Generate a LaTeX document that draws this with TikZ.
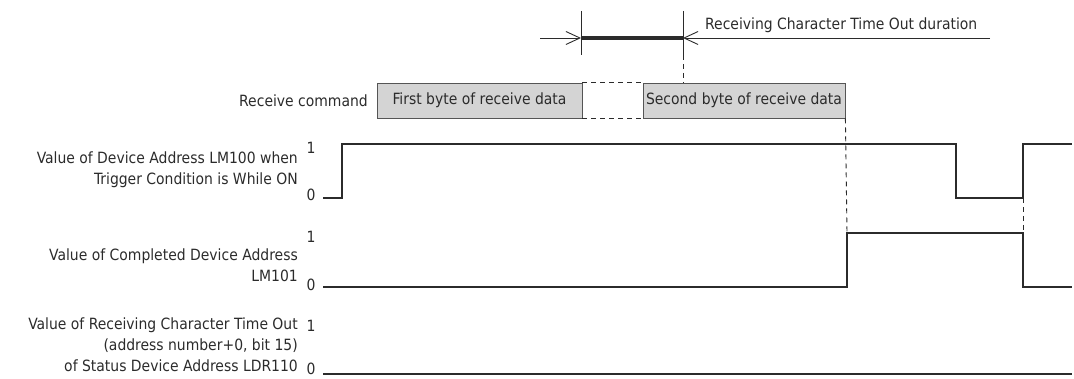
\documentclass[tikz,border=0pt]{standalone}
\usepackage{fontspec}
\setmainfont{DejaVu Sans Condensed}
\usetikzlibrary{arrows.meta, positioning, calc}
\definecolor{ink}{HTML}{2B2B2B}
\definecolor{boxfill}{HTML}{D4D4D4}

\begin{document}
\begin{tikzpicture}[
  x=1pt, y=-1pt,
  font=\fontsize{15.5}{21}\selectfont, text=ink,
  bytebox/.style={draw=ink!80, fill=boxfill, line width=0.8pt,
                  minimum height=35pt, inner sep=0pt},
  signal/.style={draw=ink, line width=2pt, line join=miter},
  guide/.style={draw=ink, line width=0.9pt},
  guidedash/.style={draw=ink, line width=0.9pt, dash pattern=on 5pt off 4pt},
  siglabel/.style={align=right, anchor=east, inner sep=0pt},
  lvl/.style={inner sep=0pt},
  barb/.style={-{Straight Barb[length=14pt,width=13pt,line width=0.9pt]}}
]
\useasboundingbox (0,0) rectangle (1074,379);

% receive command
\node[anchor=east, inner sep=0pt] (cmd) at (368,101) {Receive command};
\node[bytebox, minimum width=205pt] (b1) at (479.5,100.5) {First byte of receive data};
\node[bytebox, minimum width=202pt] (b2) at (744,100.5) {Second byte of receive data};
\draw[guidedash] (b1.north east) -- (b2.north west);
\draw[guidedash] (b1.south east) -- (b2.south west);

% time out duration
\coordinate (tl) at (581,11);
\coordinate (tr) at (683,11);
\coordinate (ll) at (540,38);
\coordinate (lr) at (990,38);
\draw[guide] (tl) -- ++(0,44);
\draw[guide] (tr) -- ++(0,44) coordinate (trb);
\draw[guide, barb] (ll) -- (tl |- ll);
\draw[guide, barb] (lr) -- (tr |- lr);
\draw[draw=ink, line width=4pt] (tl |- ll) -- (tr |- ll);
\node[anchor=south west, inner sep=0pt] (dur) at (705,33) {Receiving Character Time Out duration};
\draw[guidedash] (trb) -- (trb |- b2.north);

% signal names
\node[siglabel] (n100) at (298,170) {Value of Device Address LM100 when\\Trigger Condition is While ON};
\node[siglabel] (n101) at (298,265) {Value of Completed Device Address\\LM101};
\node[siglabel] (n110) at (298,345) {Value of Receiving Character Time Out\\(address number+0, bit 15)\\of Status Device Address LDR110};

% levels
\node[lvl] (h100) at (311,148) {1};
\node[lvl] (l100) at (311,195) {0};
\node[lvl] (h101) at (311,237) {1};
\node[lvl] (l101) at (311,285) {0};
\node[lvl] (h110) at (311,326) {1};
\node[lvl] (l110) at (311,369) {0};

% waveforms
\draw[signal] (323,198) -- (342,198) -- (342,144) -- (956,144) -- (956,198)
  -- (1023,198) coordinate (fall) -- (1023,144) -- (1072,144);
\draw[signal] (323,287) -- (847,287) -- (847,233) coordinate (rise) -- (1023,233) coordinate (drop)
  -- (1023,287) -- (1072,287);
\draw[signal] (323,374) -- (1072,374);

% dashed references
\draw[guidedash] (b2.south east) -- (rise);
\draw[guidedash] (fall) -- (drop);

\end{tikzpicture}
\end{document}
